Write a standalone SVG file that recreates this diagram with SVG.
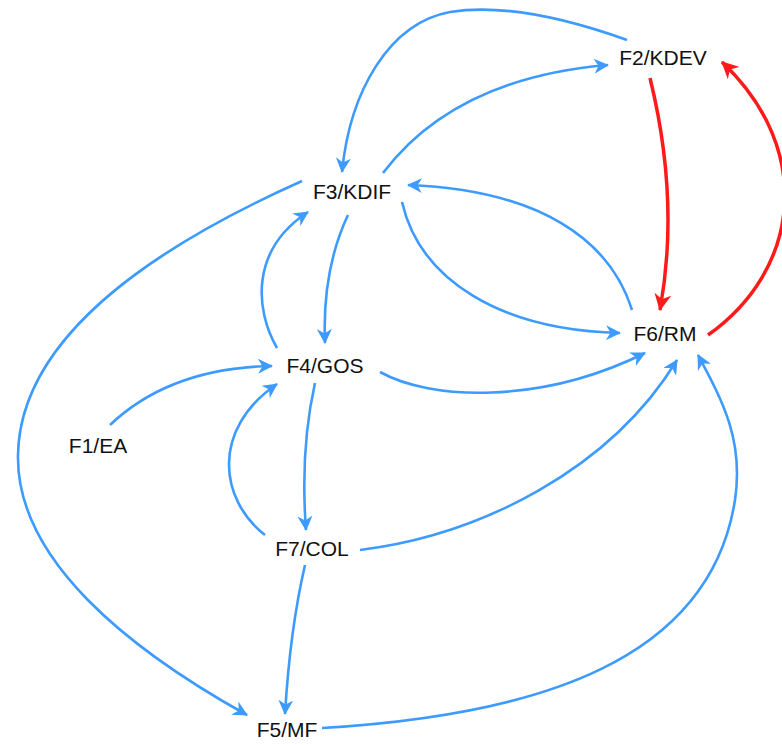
<svg xmlns="http://www.w3.org/2000/svg" width="782" height="745" viewBox="0 0 782 745">
  <style>
    .edge { fill: none; stroke: #3d9bff; stroke-width: 2.6; }
    .edge.strong { stroke: #ff1a1a; stroke-width: 3.5; }
    .label { font-family: "Liberation Sans", Arial, sans-serif; font-size: 21px; fill: #111111; text-anchor: middle; }
  </style>
  <defs>
    <marker id="arrow-blue" markerUnits="userSpaceOnUse" markerWidth="15" markerHeight="15" refX="14" refY="7.5" orient="auto" viewBox="0 0 15 15">
      <path d="M0,0 L15,7.5 L0,15 L4.5,7.5 z" fill="#3d9bff"/>
    </marker>
    <marker id="arrow-red" markerUnits="userSpaceOnUse" markerWidth="17" markerHeight="17" refX="16" refY="8.5" orient="auto" viewBox="0 0 17 17">
      <path d="M0,0 L17,8.5 L0,17 L5,8.5 z" fill="#ff1a1a"/>
    </marker>
  </defs>

  <rect width="782" height="745" fill="#ffffff"/>

  <g id="connectors">
    <!-- F2/KDEV -> F3/KDIF (top arc) -->
    <path class="edge" marker-end="url(#arrow-blue)" d="M627,40 C560,16 500,4 450,12 C390,23 350,90 342,172"/>
    <!-- F3/KDIF -> F2/KDEV -->
    <path class="edge" marker-end="url(#arrow-blue)" d="M383,173 Q455,78 608,65"/>
    <!-- F2/KDEV -> F6/RM -->
    <path class="edge strong" marker-end="url(#arrow-red)" d="M650,78 Q680,200 660,310"/>
    <!-- F6/RM -> F2/KDEV (right arc) -->
    <path class="edge strong" marker-end="url(#arrow-red)" d="M708,335 C800,270 815,150 722,62"/>
    <!-- F6/RM -> F3/KDIF -->
    <path class="edge" marker-end="url(#arrow-blue)" d="M632,310 C610,240 540,190 408,185"/>
    <!-- F3/KDIF -> F6/RM -->
    <path class="edge" marker-end="url(#arrow-blue)" d="M402,202 C420,280 500,330 620,333"/>
    <!-- F3/KDIF -> F4/GOS -->
    <path class="edge" marker-end="url(#arrow-blue)" d="M348,215 Q322,270 325,343"/>
    <!-- F4/GOS -> F3/KDIF -->
    <path class="edge" marker-end="url(#arrow-blue)" d="M277,348 C255,310 250,250 308,212"/>
    <!-- F1/EA -> F4/GOS -->
    <path class="edge" marker-end="url(#arrow-blue)" d="M110,425 Q170,368 272,366"/>
    <!-- F4/GOS -> F6/RM -->
    <path class="edge" marker-end="url(#arrow-blue)" d="M380,372 C430,400 540,405 645,353"/>
    <!-- F4/GOS -> F7/COL -->
    <path class="edge" marker-end="url(#arrow-blue)" d="M315,383 Q300,450 306,530"/>
    <!-- F7/COL -> F4/GOS -->
    <path class="edge" marker-end="url(#arrow-blue)" d="M265,535 C220,500 210,430 277,384"/>
    <!-- F7/COL -> F6/RM -->
    <path class="edge" marker-end="url(#arrow-blue)" d="M360,550 C480,535 610,470 677,360"/>
    <!-- F7/COL -> F5/MF -->
    <path class="edge" marker-end="url(#arrow-blue)" d="M305,565 Q290,630 285,714"/>
    <!-- F3/KDIF -> F5/MF (left arc) -->
    <path class="edge" marker-end="url(#arrow-blue)" d="M302,181 C170,240 20,330 18,455 C16,560 130,650 247,715"/>
    <!-- F5/MF -> F6/RM (bottom-right arc) -->
    <path class="edge" marker-end="url(#arrow-blue)" d="M322,728 C540,715 710,660 735,500 C744,440 722,400 698,355"/>
  </g>

  <g id="node-f1"><text class="label" x="98" y="453">F1/EA</text></g>
  <g id="node-f2"><text class="label" x="663" y="65">F2/KDEV</text></g>
  <g id="node-f3"><text class="label" x="352" y="199">F3/KDIF</text></g>
  <g id="node-f4"><text class="label" x="325" y="373">F4/GOS</text></g>
  <g id="node-f5"><text class="label" x="287" y="737">F5/MF</text></g>
  <g id="node-f6"><text class="label" x="665" y="341">F6/RM</text></g>
  <g id="node-f7"><text class="label" x="312" y="556">F7/COL</text></g>
</svg>
